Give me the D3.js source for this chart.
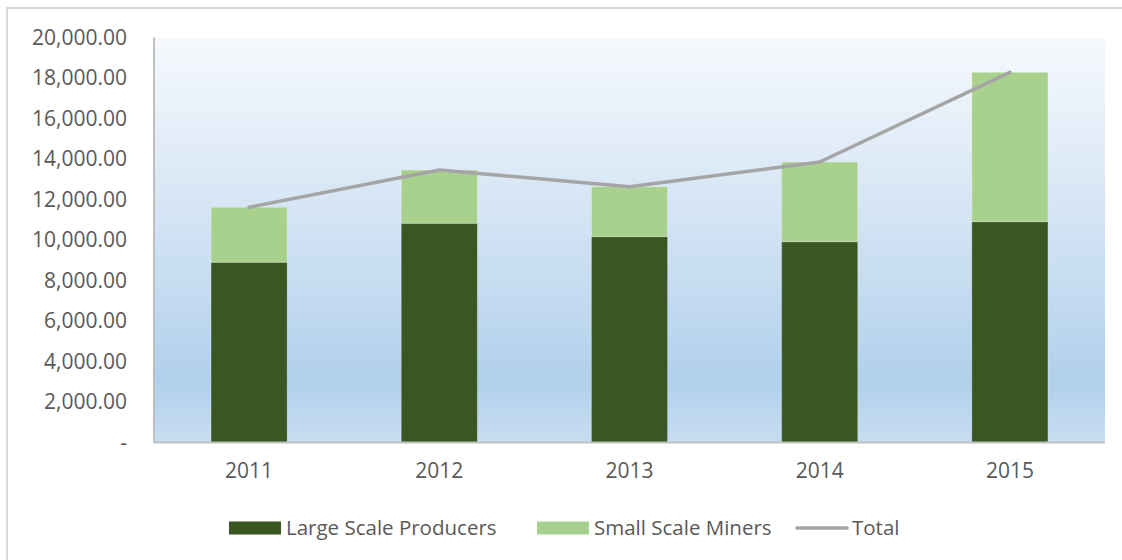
<!DOCTYPE html>
<html>
<head>
<meta charset="utf-8">
<script src="https://cdn.jsdelivr.net/npm/d3@7"></script>
<style>
  body { margin: 0; background: #fff; }
  text { font-family: "Open Sans", "Noto Sans", sans-serif; fill: #595959; }
</style>
</head>
<body>
<div id="chart"></div>
<script>
// data
var years = ["2011", "2012", "2013", "2014", "2015"];
var largeScale = [8900, 10825, 10165, 9915, 10905];
var smallScale = [2715, 2630, 2465, 3935, 7375];
var totals = [11615, 13455, 12630, 13850, 18280];
var yTicks = [0, 2000, 4000, 6000, 8000, 10000, 12000, 14000, 16000, 18000, 20000];
var seriesNames = ["Large Scale Producers", "Small Scale Miners", "Total"];

var W = 1122, H = 560;
var margin = { top: 37.5, left: 154, right: 17, bottom: 117.5 },
    width = W - margin.left - margin.right,
    height = H - margin.top - margin.bottom;

var svgRoot = d3.select("#chart").append("svg")
    .attr("width", W)
    .attr("height", H);

// outer chart border (only top and left visible in the crop)
svgRoot.append("rect")
  .attr("x", 7).attr("y", 8)
  .attr("width", W + 20).attr("height", H + 20)
  .attr("fill", "#fff")
  .attr("stroke", "#d9d9d9")
  .attr("stroke-width", 2);

// plot area gradient
var defs = svgRoot.append("defs");
var grad = defs.append("linearGradient")
  .attr("id", "bg").attr("x1", 0).attr("y1", 0).attr("x2", 0).attr("y2", 1);
grad.append("stop").attr("offset", "0%").attr("stop-color", "#f6f9fd");
grad.append("stop").attr("offset", "40%").attr("stop-color", "#d7e6f5");
grad.append("stop").attr("offset", "85%").attr("stop-color", "#b1d0ec");
grad.append("stop").attr("offset", "100%").attr("stop-color", "#c7ddf1");

var svg = svgRoot.append("g")
  .attr("transform", "translate(" + margin.left + "," + margin.top + ")");

svg.append("rect")
  .attr("width", width).attr("height", height)
  .attr("fill", "url(#bg)");

var xPositionScale = d3.scaleBand()
  .domain(years)
  .range([0, width])
  .paddingInner(0.6)
  .paddingOuter(0.3);

var yPositionScale = d3.scaleLinear()
  .domain([0, 20000])
  .range([height, 0]);

var colorScale = d3.scaleOrdinal()
  .domain(seriesNames)
  .range(["#3a5723", "#a9d18e", "#a5a5a5"]);

var rows = years.map(function (y, i) {
  return { year: y, large: largeScale[i], small: smallScale[i], total: totals[i] };
});

var stacked = d3.stack().keys(["large", "small"])(rows);

svg.selectAll(".layer")
  .data(stacked)
  .enter().append("g")
  .attr("class", "layer")
  .attr("fill", function (d, i) { return colorScale(seriesNames[i]) })
  .selectAll("rect")
  .data(function (d) { return d })
  .enter().append("rect")
  .attr("x", function (d) { return xPositionScale(d.data.year) })
  .attr("width", xPositionScale.bandwidth())
  .attr("y", function (d) { return yPositionScale(d[1]) })
  .attr("height", function (d) { return yPositionScale(d[0]) - yPositionScale(d[1]) })
  .attr("stroke", "#ffffff")
  .attr("stroke-opacity", 0.25)
  .attr("stroke-width", 1);

// axes
var yAxis = d3.axisLeft(yPositionScale)
  .tickValues(yTicks)
  .tickSize(0)
  .tickPadding(27)
  .tickFormat(function (d) { return d === 0 ? "-" : d3.format(",.2f")(d) });
var yG = svg.append("g").attr("class", "axis y-axis").call(yAxis);

var xAxis = d3.axisBottom(xPositionScale).tickSize(0).tickPadding(21);
var xG = svg.append("g")
  .attr("class", "axis x-axis")
  .attr("transform", "translate(0," + height + ")")
  .call(xAxis);

svg.selectAll(".axis .domain").attr("stroke", "#bfbfbf").attr("stroke-width", 2);
svg.selectAll(".axis text")
  .attr("fill", "#595959")
  .style("font-family", '"Open Sans", sans-serif')
  .style("font-size", "21px");
yG.select(".domain").attr("d", "M0," + height + "V0");
xG.select(".domain").attr("d", "M0,0H" + width);

// total line
var line = d3.line()
  .x(function (d) { return xPositionScale(d.year) + xPositionScale.bandwidth() / 2 })
  .y(function (d) { return yPositionScale(d.total) });

svg.append("path")
  .datum(rows)
  .attr("d", line)
  .attr("fill", "none")
  .attr("stroke", colorScale("Total"))
  .attr("stroke-width", 3.5)
  .attr("stroke-linecap", "round")
  .attr("stroke-linejoin", "round");

// legend
var legend = svgRoot.append("g").attr("transform", "translate(0,528)");
var legendX = [229, 537, 797];

seriesNames.forEach(function (name, i) {
  var g = legend.append("g").attr("transform", "translate(" + legendX[i] + ",0)");
  if (i < 2) {
    g.append("rect")
      .attr("x", 0).attr("y", -6.5)
      .attr("width", 52).attr("height", 13)
      .attr("fill", colorScale(name));
  } else {
    g.append("line")
      .attr("x1", 0).attr("x2", 50)
      .attr("stroke", colorScale(name))
      .attr("stroke-width", 3.5)
      .attr("stroke-linecap", "round");
  }
  g.append("text")
    .attr("x", i < 2 ? 57 : 55)
    .attr("y", 0)
    .attr("dy", "0.35em")
    .style("font-size", "20.5px")
    .text(name);
});
</script>
</body>
</html>
